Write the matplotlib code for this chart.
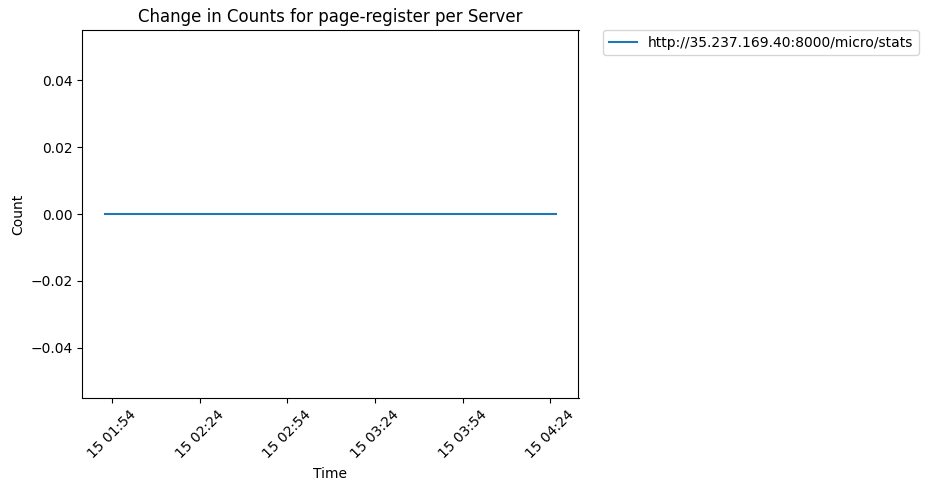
import pandas as pd
import matplotlib
matplotlib.use('Agg')
import matplotlib.pyplot as plt
import matplotlib.dates as mdates

# Datos
times = ['2023-05-15 01:51:30', '2023-05-15 02:20:00', '2023-05-15 02:50:00',
         '2023-05-15 03:20:00', '2023-05-15 03:50:00', '2023-05-15 04:26:00']
counts = [0, 0, 0, 0, 0, 0]
server = 'http://35.237.169.40:8000/micro/stats'
tick_times = ['2023-05-15 01:54', '2023-05-15 02:24', '2023-05-15 02:54',
              '2023-05-15 03:24', '2023-05-15 03:54', '2023-05-15 04:24']

data = pd.DataFrame({'timestamps': pd.to_datetime(times), 'count': counts})

fig = plt.figure(figsize=(9.28, 4.92), dpi=100)
ax = fig.add_axes([82.5 / 928, 1 - 398 / 492, 496 / 928, 368 / 492])
ax.plot(data['timestamps'], data['count'], label=server)

ax.set_xticks(pd.to_datetime(tick_times))
ax.xaxis.set_major_formatter(mdates.DateFormatter('%d %H:%M'))
plt.setp(ax.get_xticklabels(), rotation=45)

ax.set_title('Change in Counts for page-register per Server')
ax.set_xlabel('Time')
ax.set_ylabel('Count')
ax.legend(bbox_to_anchor=(1.05, 1), loc='upper left', borderaxespad=0)

fig.savefig('out.png', dpi=100)
